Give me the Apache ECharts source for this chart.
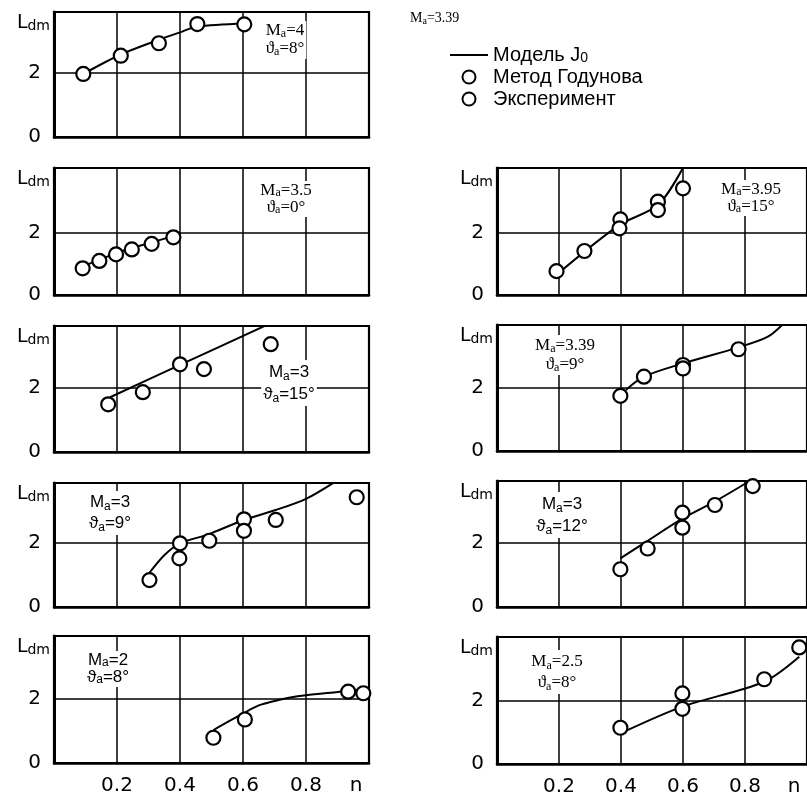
<!DOCTYPE html>
<html><head><meta charset="utf-8">
<script src="https://cdn.jsdelivr.net/npm/echarts@6/dist/echarts.min.js"></script>
<style>html,body{margin:0;padding:0;background:#fff}#c{width:807px;height:798px}</style>
</head><body><div id="c"></div>
<script>
// ---- data (n, Ldm) ----
const xTickLabels = ['0.2', '0.4', '0.6', '0.8', 'n'];
const yTickLabels = ['0', '2'];
const seriesNames = ['Модель J0', 'Метод Годунова', 'Эксперимент'];

// left column, top to bottom
const p1Model = [[0.093,1.97],[0.21,2.57],[0.33,3.03],[0.40,3.27],[0.455,3.45],[0.604,3.55]];
const p1Godunov = [[0.093,1.97],[0.212,2.54],[0.455,3.53],[0.604,3.52]];
const p1Exp = [[0.333,2.93]];

const p2Model = [[0.091,0.92],[0.2,1.36],[0.31,1.7],[0.379,1.9]];
const p2Godunov = [[0.091,0.86],[0.144,1.10],[0.197,1.31],[0.247,1.47],[0.31,1.65],[0.379,1.86]];
const p2Exp = [];

const p3Model = [[0.178,1.71],[0.4,2.72],[0.68,3.99]];
const p3Godunov = [[0.4,2.74]];
const p3Exp = [[0.172,1.49],[0.282,1.87],[0.476,2.59],[0.688,3.37]];

const p4Model = [[0.303,1.07],[0.35,1.62],[0.4,1.99],[0.49,2.27],[0.603,2.72],[0.704,3.03],[0.8,3.38],[0.887,3.88]];
const p4Godunov = [[0.4,1.99],[0.493,2.07],[0.603,2.74]];
const p4Exp = [[0.303,0.84],[0.398,1.52],[0.603,2.38],[0.704,2.72],[0.961,3.43]];

const p5Model = [[0.506,1.03],[0.606,1.58],[0.65,1.8],[0.7,1.94],[0.75,2.05],[0.8,2.12],[0.934,2.25],[0.993,2.33]];
const p5Godunov = [[0.606,1.36],[0.934,2.23]];
const p5Exp = [[0.506,0.79],[0.982,2.18]];

// right column, top to bottom
const p6Model = [[0.192,0.65],[0.395,2.26],[0.519,2.9],[0.602,4.14]];
const p6Godunov = [[0.192,0.77],[0.282,1.42],[0.398,2.44],[0.519,3.01]];
const p6Exp = [[0.395,2.15],[0.519,2.74],[0.6,3.44]];

const p7Model = [[0.416,1.94],[0.474,2.36],[0.6,2.78],[0.779,3.29],[0.874,3.63],[0.927,4.07]];
const p7Godunov = [[0.474,2.36],[0.6,2.73],[0.779,3.23]];
const p7Exp = [[0.398,1.75],[0.6,2.62]];

const p8Model = [[0.398,1.52],[0.486,2.07],[0.598,2.76],[0.703,3.3],[0.815,3.94]];
const p8Godunov = [[0.598,2.95],[0.825,3.78]];
const p8Exp = [[0.398,1.18],[0.486,1.83],[0.598,2.48],[0.703,3.19]];

const p9Model = [[0.398,0.97],[0.598,1.82],[0.862,2.61],[0.975,3.4]];
const p9Godunov = [[0.398,1.15],[0.598,1.75],[0.862,2.69],[0.975,3.70]];
const p9Exp = [[0.598,2.24]];

const machValues = ['4', '3.5', '3', '3', '2', '3.95', '3.39', '3', '2.5'];
const angleValues = ['8°', '0°', '15°', '9°', '8°', '15°', '9°', '12°', '8°'];
const headerMach = '3.39';

// ---- layout ----
const panels = [
  {m: p1Model, g: p1Godunov, e: p1Exp},
  {m: p2Model, g: p2Godunov, e: p2Exp},
  {m: p3Model, g: p3Godunov, e: p3Exp},
  {m: p4Model, g: p4Godunov, e: p4Exp},
  {m: p5Model, g: p5Godunov, e: p5Exp},
  {m: p6Model, g: p6Godunov, e: p6Exp},
  {m: p7Model, g: p7Godunov, e: p7Exp},
  {m: p8Model, g: p8Godunov, e: p8Exp},
  {m: p9Model, g: p9Godunov, e: p9Exp}
];
const boxes = [
  {left: 54, right: 438, top: 12, height: 125, max: 3.906},
  {left: 54, right: 438, top: 168, height: 127, max: 4.097},
  {left: 54, right: 438, top: 326, height: 126, max: 3.9375},
  {left: 54, right: 438, top: 483, height: 124, max: 3.875},
  {left: 54, right: 438, top: 636, height: 127, max: 3.97},
  {left: 497, right: -6, top: 168, height: 127, max: 4.097},
  {left: 497, right: -6, top: 325, height: 126, max: 4.0},
  {left: 497, right: -6, top: 481, height: 126, max: 3.94},
  {left: 497, right: -6, top: 637, height: 127, max: 4.03}
];
const bottomPanels = [4, 8];
const annoPos = [
  {x: 285, y: 21, lh: 18}, {x: 286, y: 181, lh: 17}, {x: 289, y: 360, lh: 22}, {x: 110, y: 491, lh: 21}, {x: 108, y: 651, lh: 17},
  {x: 751, y: 180, lh: 17}, {x: 565, y: 335, lh: 19}, {x: 562, y: 492, lh: 22}, {x: 557, y: 650, lh: 21}
];
const annoFont = ['Liberation Serif','Liberation Serif','Liberation Sans','Liberation Sans','Liberation Sans',
                  'Liberation Serif','Liberation Serif','Liberation Sans','Liberation Serif'];

const SANS = 'DejaVu Sans';
const grid = [], xAxis = [], yAxis = [], series = [], graphic = [];

boxes.forEach((b, i) => {
  grid.push({left: b.left, right: b.right, top: b.top, height: b.height, show: true,
    borderColor: '#000', borderWidth: 2.2, backgroundColor: 'transparent'});
  const isBottom = bottomPanels.includes(i);
  xAxis.push({
    type: 'value', gridIndex: i, min: 0, max: 1, interval: 0.2,
    axisLine: {show: true, onZero: false, lineStyle: {color: '#000', width: 2.5}},
    axisTick: {show: false},
    splitLine: {show: true, lineStyle: {color: '#000', width: 1.5}},
    axisLabel: {
      show: isBottom, margin: 13, color: '#000', fontFamily: SANS, fontSize: 20,
      formatter: v => {
        if (Math.abs(v - 1) < 1e-6) return '{n|' + xTickLabels[4] + '}';
        const k = Math.round(v / 0.2);
        return k >= 1 && k <= 4 ? xTickLabels[k - 1] : '';
      },
      rich: {n: {fontFamily: SANS, fontSize: 20, color: '#000', padding: [0, 26, 0, 0]}}
    }
  });
  yAxis.push({
    type: 'value', gridIndex: i, min: 0, max: b.max, interval: 2,
    axisLine: {show: true, onZero: false, lineStyle: {color: '#000', width: 3}},
    axisTick: {show: false},
    splitLine: {show: false},
    axisLabel: {
      margin: 13, color: '#000', fontFamily: SANS, fontSize: 20,
      formatter: v => (Math.abs(v) < 1e-6 ? yTickLabels[0] : Math.abs(v - 2) < 1e-6 ? yTickLabels[1] : '')
    },
    name: '{L|L}{d|dm}', nameLocation: 'end', nameGap: -3, nameMoveOverlap: false,
    nameTextStyle: {
      align: 'right', verticalAlign: 'top', padding: [0, 4, 0, 0],
      rich: {
        L: {fontFamily: SANS, fontSize: 19, lineHeight: 18, verticalAlign: 'bottom', color: '#000'},
        d: {fontFamily: SANS, fontSize: 14, lineHeight: 14, verticalAlign: 'bottom', color: '#000'}
      }
    }
  });
});

panels.forEach((p, i) => {
  series.push({
    type: 'line', name: seriesNames[0], xAxisIndex: i, yAxisIndex: i, data: p.m,
    symbol: 'none', showSymbol: false, smooth: 0.3,
    lineStyle: {color: '#000', width: 2}, itemStyle: {color: '#000', opacity: 0}, z: 3, animation: false,
    markLine: {silent: true, symbol: 'none', z: 1, animation: false, label: {show: false},
      lineStyle: {color: '#000', width: 1.5, type: 'solid'}, data: [{yAxis: 2}]}
  });
  series.push({
    type: 'scatter', name: seriesNames[1], xAxisIndex: i, yAxisIndex: i, data: p.g,
    symbol: 'circle', symbolSize: 14, z: 4, animation: false,
    itemStyle: {color: '#fff', borderColor: '#000', borderWidth: 2.2, opacity: 1}
  });
  series.push({
    type: 'scatter', name: seriesNames[2], xAxisIndex: i, yAxisIndex: i, data: p.e,
    symbol: 'circle', symbolSize: 14, z: 4, animation: false,
    itemStyle: {color: '#fff', borderColor: '#000', borderWidth: 2.2, opacity: 1}
  });
});

annoPos.forEach((a, i) => {
  const f = annoFont[i];
  graphic.push({
    type: 'text', x: a.x, y: a.y, z: 50,
    style: {
      text: '{m|M}{s|a}{m|=' + machValues[i] + '}\n{m|ϑ}{s|a}{m|=' + angleValues[i] + '}',
      align: 'center', verticalAlign: 'top', backgroundColor: '#fff', padding: [1, 2, 1, 2],
      rich: {
        m: {fontFamily: f, fontSize: 17, lineHeight: a.lh, fill: '#000', color: '#000', verticalAlign: 'middle'},
        s: {fontFamily: f, fontSize: 12, lineHeight: 7, fill: '#000', color: '#000', verticalAlign: 'bottom'}
      }
    }
  });
});
graphic.push({
  type: 'text', x: 410, y: 11, z: 50,
  style: {
    text: '{m|M}{s|a}{m|=' + headerMach + '}', align: 'left', verticalAlign: 'top',
    rich: {
      m: {fontFamily: 'Liberation Serif', fontSize: 14, lineHeight: 15, color: '#000', fill: '#000'},
      s: {fontFamily: 'Liberation Serif', fontSize: 10, lineHeight: 5, color: '#000', fill: '#000', verticalAlign: 'bottom'}
    }
  }
});

const chart = echarts.init(document.getElementById('c'), null, {renderer: 'canvas'});
chart.setOption({
  animation: false,
  backgroundColor: '#fff',
  grid, xAxis, yAxis, series, graphic,
  legend: {
    left: 444, top: 40, orient: 'vertical', selectedMode: false,
    itemWidth: 38, itemHeight: 13, itemGap: 2,
    data: [
      {name: seriesNames[0], itemStyle: {opacity: 0}},
      {name: seriesNames[1]},
      {name: seriesNames[2]}
    ],
    textStyle: {fontFamily: 'Liberation Sans', fontSize: 20, lineHeight: 20, color: '#000',
      rich: {sub: {fontFamily: 'Liberation Sans', fontSize: 14, lineHeight: 8, verticalAlign: 'bottom', color: '#000'}}},
    formatter: n => n === seriesNames[0] ? 'Модель J{sub|0}' : n
  }
});
</script></body></html>
